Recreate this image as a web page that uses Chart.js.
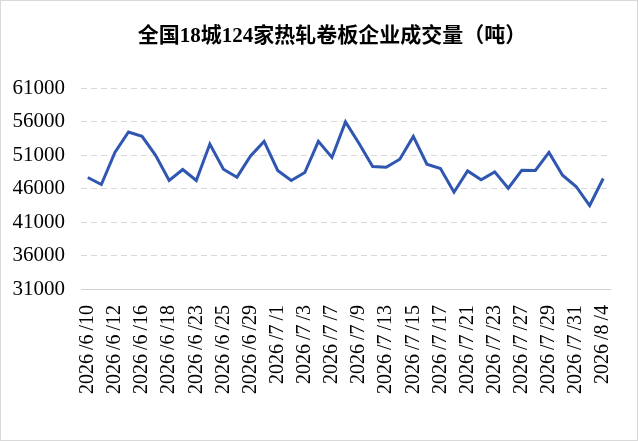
<!DOCTYPE html>
<html>
<head>
<meta charset="utf-8">
<script src="https://cdn.jsdelivr.net/npm/chart.js@4/dist/chart.umd.min.js"></script>
<style>
html,body{margin:0;padding:0;background:#fff;}
#wrap{position:relative;width:636px;height:439px;border:1px solid #d9d9d9;}
canvas{display:block;}
</style>
</head>
<body>
<div id="wrap"><canvas id="c" width="636" height="439"></canvas></div>
<script>
const chartTitle = "全国18城124家热轧卷板企业成交量（吨）";
const dates = ["2026/6/10","2026/6/11","2026/6/12","2026/6/15","2026/6/16","2026/6/17","2026/6/18","2026/6/22","2026/6/23","2026/6/24","2026/6/25","2026/6/26","2026/6/29","2026/6/30","2026/7/1","2026/7/2","2026/7/3","2026/7/6","2026/7/7","2026/7/8","2026/7/9","2026/7/10","2026/7/13","2026/7/14","2026/7/15","2026/7/16","2026/7/17","2026/7/20","2026/7/21","2026/7/22","2026/7/23","2026/7/24","2026/7/27","2026/7/28","2026/7/29","2026/7/30","2026/7/31","2026/8/3","2026/8/4"];
const volume = [47640,46600,51390,54430,53780,50950,47190,48840,47190,52640,48880,47690,50850,53030,48690,47190,48390,53030,50640,55940,52720,49280,49180,50370,53780,49630,48980,45450,48630,47290,48480,46040,48730,48690,51390,47980,46300,43460,47490];
const yMin = 31000, yMax = 61000, yStep = 5000;

const serif = "'Liberation Serif','Times New Roman',serif";

const titlePlugin = {
  id: 'fixedTitle',
  afterDraw(chart) {
    const ctx = chart.ctx;
    ctx.save();
    ctx.font = "bold 21px " + serif + ",'Noto Sans CJK SC'";
    ctx.fillStyle = '#000';
    ctx.textAlign = 'center';
    ctx.textBaseline = 'middle';
    ctx.fillText(chartTitle, 331, 36);
    ctx.restore();
  }
};

new Chart(document.getElementById('c'), {
  type: 'line',
  data: {
    labels: dates,
    datasets: [{
      data: volume,
      borderColor: '#2f56b0',
      borderWidth: 3,
      pointRadius: 0,
      tension: 0,
      fill: false
    }]
  },
  plugins: [titlePlugin],
  options: {
    responsive: false,
    animation: false,
    devicePixelRatio: 1,
    layout: { padding: { left: 0, right: 27, top: 87, bottom: 0 } },
    plugins: {
      legend: { display: false },
      tooltip: { enabled: false },
      title: { display: false }
    },
    scales: {
      x: {
        offset: true,
        grid: { display: false, drawTicks: false },
        border: { display: true, color: '#d0d0d0', width: 1 },
        ticks: {
          autoSkip: false,
          maxRotation: 90,
          minRotation: 90,
          padding: 16,
          color: '#000',
          font: { family: serif, size: 20 },
          callback: function(v, i) { return i % 2 === 0 ? dates[i].replace(/\//g, '\u2009/') : ''; }
        },
        afterFit: function(s) { s.height = 151; s.paddingLeft = 0; s.paddingRight = 0; }
      },
      y: {
        min: yMin,
        max: yMax,
        grid: { color: '#d9d9d9', lineWidth: 1, drawTicks: false },
        border: { display: false, dash: [6, 4] },
        ticks: {
          stepSize: yStep,
          padding: 16,
          color: '#000',
          font: { family: serif, size: 21 },
          callback: function(v) { return String(v); }
        },
        afterFit: function(s) { s.width = 80; }
      }
    }
  }
});
</script>
</body>
</html>
